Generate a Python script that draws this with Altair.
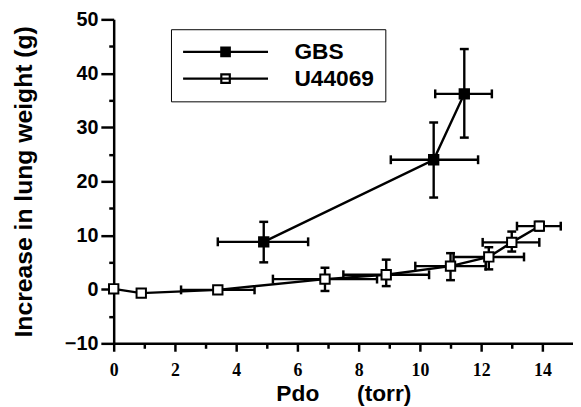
import altair as alt
import pandas as pd

# GBS series (filled squares)
gbs_x = [4.9, 10.45, 11.45]
gbs_y = [8.8, 24.0, 36.2]
gbs_xlo = [3.4, 9.05, 10.5]
gbs_xhi = [6.35, 11.9, 12.35]
gbs_ylo = [5.0, 17.0, 28.1]
gbs_yhi = [12.5, 30.9, 44.5]

# U44069 series (open squares)
u_x = [0.0, 0.9, 3.4, 6.9, 8.9, 11.0, 12.25, 13.0, 13.9]
u_y = [0.1, -0.7, -0.1, 1.9, 2.7, 4.3, 6.0, 8.7, 11.7]
u_xlo = [0.0, 0.9, 2.2, 5.2, 7.5, 9.85, 11.1, 12.05, 13.17]
u_xhi = [0.0, 0.9, 4.6, 8.6, 10.3, 12.15, 13.4, 13.9, 14.6]
u_ylo = [0.1, -0.7, -0.1, -0.3, 0.6, 1.7, 3.7, 7.0, 10.9]
u_yhi = [0.1, -0.7, -0.1, 4.0, 5.5, 6.7, 7.8, 10.7, 12.5]

series_names = ["GBS", "U44069"]
x_major = [0, 2, 4, 6, 8, 10, 12, 14]
x_minor = [1, 3, 5, 7, 9, 11, 13]
y_major = [-10, 0, 10, 20, 30, 40, 50]
y_minor = [-5, 5, 15, 25, 35, 45]

rows = []
for i in range(len(gbs_x)):
    rows.append(dict(series="GBS", x=gbs_x[i], y=gbs_y[i], xlo=gbs_xlo[i], xhi=gbs_xhi[i],
                     ylo=gbs_ylo[i], yhi=gbs_yhi[i], idx=i))
for i in range(len(u_x)):
    rows.append(dict(series="U44069", x=u_x[i], y=u_y[i], xlo=u_xlo[i], xhi=u_xhi[i],
                     ylo=u_ylo[i], yhi=u_yhi[i], idx=i))
df = pd.DataFrame(rows)

xs = alt.Scale(domain=[0, 15], nice=False, zero=False)
ys = alt.Scale(domain=[-10, 50], nice=False, zero=False)

FONT = "Liberation Sans"
NB = "\u00a0"

x_axis = alt.Axis(values=x_major, title="Pdo" + NB * 6 + "(torr)", titleFont=FONT,
                  titleFontSize=23, titleFontWeight="bold", titleColor="black", titlePadding=3,
                  labelFont="Liberation Serif", labelFontSize=18, labelFontWeight="bold",
                  labelColor="black", labelPadding=11, tickSize=8, tickWidth=2.5,
                  tickColor="black", domainColor="black", domainWidth=2.5, grid=False,
                  labelFlush=False)
y_axis = alt.Axis(values=y_major, title="Increase in lung weight (g)",
                  titleFont=FONT, titleFontSize=25, titleFontWeight="bold",
                  titleColor="black", titlePadding=28,
                  labelFont=FONT, labelFontSize=20, labelFontWeight="bold", labelColor="black",
                  labelPadding=3, tickSize=13, tickWidth=2.5, tickColor="black",
                  domainColor="black", domainWidth=2.5, grid=False, labelFlush=False)

base = alt.Chart(df)
XN = lambda f: alt.X(f, scale=xs, axis=None)
YN = lambda f: alt.Y(f, scale=ys, axis=None)

line = base.mark_line(color="black", strokeWidth=2.4).encode(
    x=alt.X("x:Q", scale=xs, axis=x_axis),
    y=alt.Y("y:Q", scale=ys, axis=y_axis),
    detail="series:N",
    order="idx:Q",
)

has_x = base.transform_filter("datum.xlo < datum.xhi")
has_y = base.transform_filter("datum.ylo < datum.yhi")

xbar = has_x.mark_rule(color="black", strokeWidth=2.4).encode(
    x=XN("xlo:Q"), x2="xhi:Q", y=YN("y:Q"))
ybar = has_y.mark_rule(color="black", strokeWidth=2.4).encode(
    x=XN("x:Q"), y=YN("ylo:Q"), y2="yhi:Q")

cap_xlo = has_x.mark_tick(orient="vertical", size=9, thickness=2.5, color="black", opacity=1).encode(
    x=XN("xlo:Q"), y=YN("y:Q"))
cap_xhi = has_x.mark_tick(orient="vertical", size=9, thickness=2.5, color="black", opacity=1).encode(
    x=XN("xhi:Q"), y=YN("y:Q"))
cap_ylo = has_y.mark_tick(orient="horizontal", size=9, thickness=2.5, color="black", opacity=1).encode(
    x=XN("x:Q"), y=YN("ylo:Q"))
cap_yhi = has_y.mark_tick(orient="horizontal", size=9, thickness=2.5, color="black", opacity=1).encode(
    x=XN("x:Q"), y=YN("yhi:Q"))

legend = alt.Legend(orient="none", legendX=58, legendY=10, title=None,
                    symbolType="M-1,0H7M2.6,-0.4H3.4V0.4H2.6Z", symbolSize=462,
                    symbolStrokeWidth=2.2, symbolStrokeColor="black", symbolOpacity=1,
                    labelFont=FONT, labelFontSize=23, labelFontWeight="bold",
                    labelColor="black", labelOffset=90, strokeColor="black",
                    padding=11, rowPadding=3)

pts = base.mark_point(shape="square", size=90, filled=True, stroke="black",
                      strokeWidth=2, opacity=1).encode(
    x=XN("x:Q"),
    y=YN("y:Q"),
    fill=alt.Fill("series:N", scale=alt.Scale(domain=series_names, range=["black", "white"]),
                  legend=legend),
)

# minor ticks as secondary axes
minor_x = alt.Chart(pd.DataFrame({"v": x_minor})).mark_tick(opacity=0).encode(
    x=alt.X("v:Q", scale=xs, axis=alt.Axis(values=x_minor, labels=False, title=None,
                                           tickSize=5, tickWidth=2.5, tickColor="black",
                                           domain=False, grid=False, orient="bottom")))
minor_y = alt.Chart(pd.DataFrame({"v": y_minor})).mark_tick(opacity=0).encode(
    y=alt.Y("v:Q", scale=ys, axis=alt.Axis(values=y_minor, labels=False, title=None,
                                           tickSize=5, tickWidth=2.5, tickColor="black",
                                           domain=False, grid=False, orient="left")))

chart = alt.layer(line, xbar, ybar, cap_xlo, cap_xhi, cap_ylo, cap_yhi, pts, minor_x, minor_y).resolve_axis(
    x="independent", y="independent"
).properties(
    width=465, height=328,
    autosize=alt.AutoSizeParams(type="none"),
    padding={"left": 107, "top": 9, "right": 0, "bottom": 66},
    background="white",
).configure_view(stroke=None)

chart.save("out.html", embed_options={"renderer": "svg", "actions": False})
